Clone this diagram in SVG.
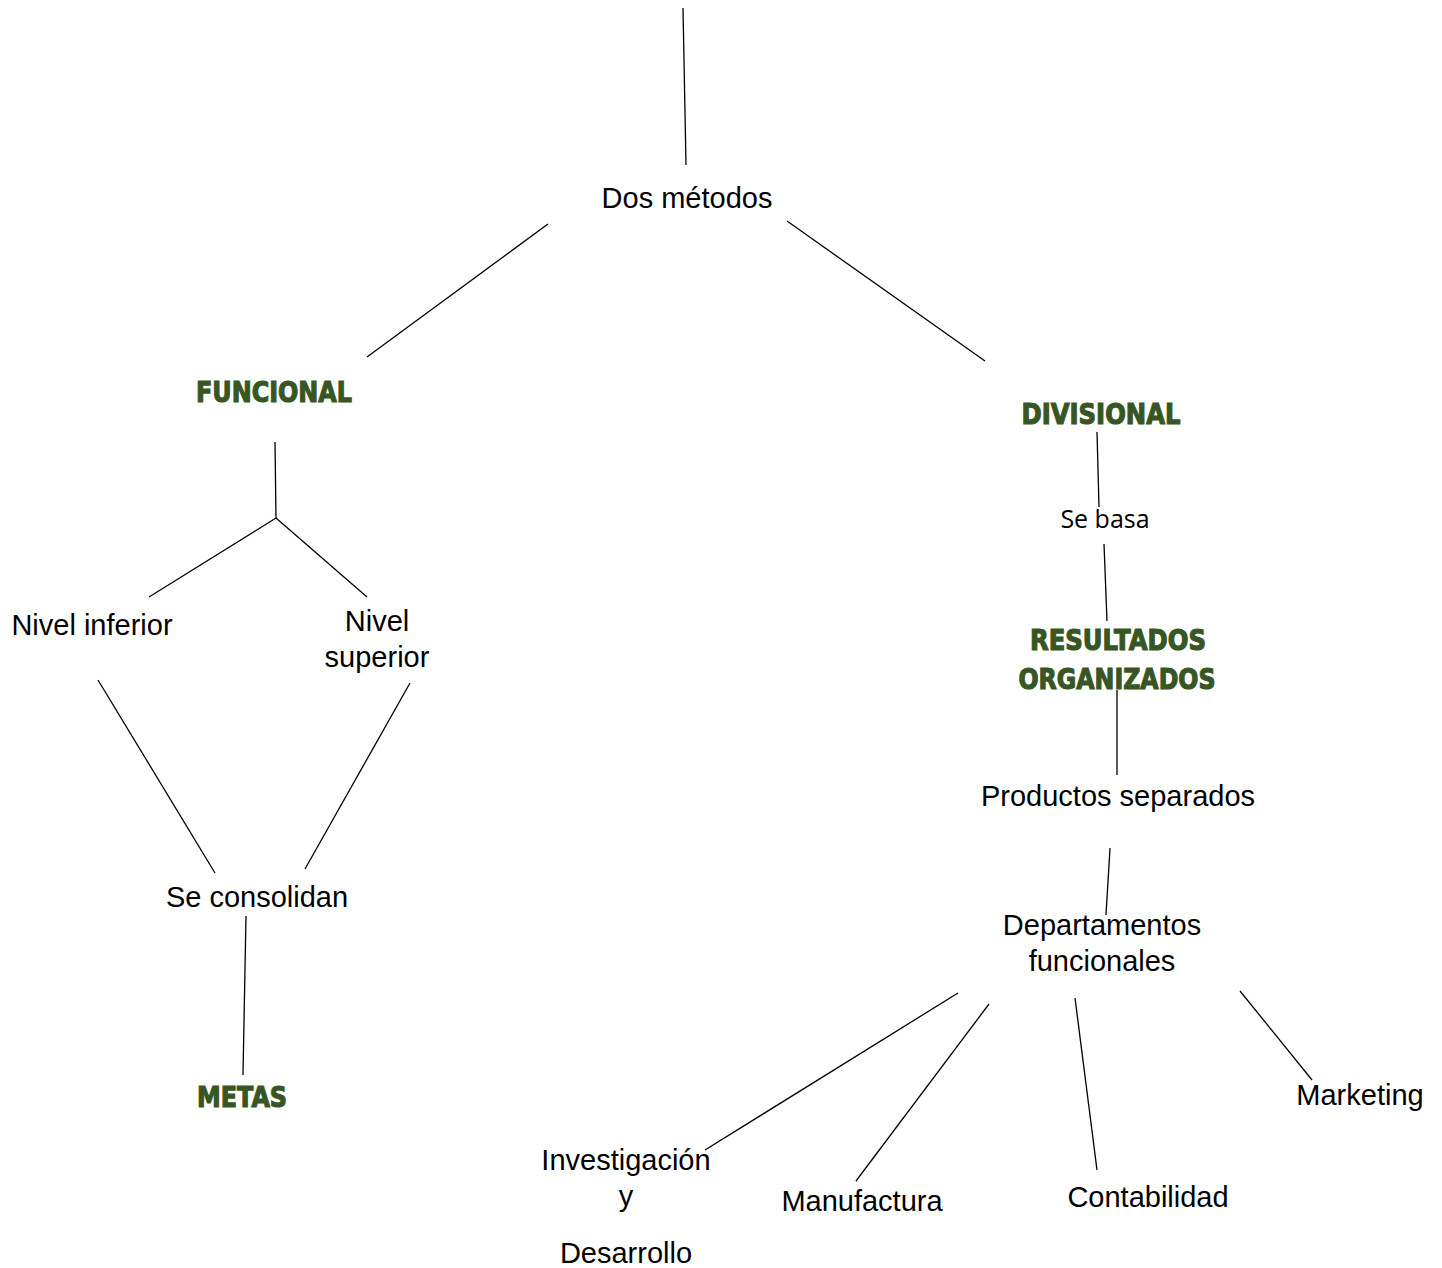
<svg xmlns="http://www.w3.org/2000/svg" width="1442" height="1268" viewBox="0 0 1442 1268">
<style>
.t{font-family:"Liberation Sans",Arial,sans-serif;font-size:29px;fill:#000;text-anchor:middle}
.s{font-family:"Open Sans","Noto Sans",sans-serif;font-size:25px;fill:#000;text-anchor:middle}
.h{font-family:"DejaVu Sans","Liberation Sans",sans-serif;font-weight:900;font-size:28px;fill:#375623;stroke:#375623;stroke-width:1.2;text-anchor:middle}
.c line{stroke:#000;stroke-width:1.3}
</style>
<rect width="1442" height="1268" fill="#fff"/>
<g class="c" id="connectors">
<line x1="683" y1="8" x2="686" y2="165"/>
<line x1="548" y1="224" x2="367" y2="357"/>
<line x1="787" y1="221" x2="985" y2="361"/>
<line x1="275" y1="442" x2="276" y2="518"/>
<line x1="276" y1="518" x2="149" y2="597"/>
<line x1="276" y1="518" x2="367" y2="597"/>
<line x1="98" y1="680" x2="215" y2="873"/>
<line x1="410" y1="683" x2="305" y2="869"/>
<line x1="246" y1="916" x2="243" y2="1075"/>
<line x1="1097" y1="432" x2="1099" y2="507"/>
<line x1="1104" y1="544" x2="1107" y2="621"/>
<line x1="1117" y1="690" x2="1117" y2="775"/>
<line x1="1110" y1="848" x2="1106" y2="915"/>
<line x1="958" y1="993" x2="705" y2="1150"/>
<line x1="989" y1="1004" x2="856" y2="1181"/>
<line x1="1075" y1="998" x2="1097" y2="1170"/>
<line x1="1240" y1="991" x2="1312" y2="1080"/>
</g>
<g id="dos"><text class="t" x="687" y="208">Dos métodos</text></g>
<g id="funcional"><text class="h" x="274" y="402" textLength="156" lengthAdjust="spacingAndGlyphs">FUNCIONAL</text></g>
<g id="divisional"><text class="h" x="1101" y="424" textLength="159" lengthAdjust="spacingAndGlyphs">DIVISIONAL</text></g>
<g id="inferior"><text class="t" x="92" y="635">Nivel inferior</text></g>
<g id="superior"><text class="t" x="377" y="631">Nivel</text><text class="t" x="377" y="667">superior</text></g>
<g id="consolidan"><text class="t" x="257" y="907">Se consolidan</text></g>
<g id="metas"><text class="h" x="242" y="1107" textLength="90" lengthAdjust="spacingAndGlyphs">METAS</text></g>
<g id="sebasa"><text class="s" x="1105" y="528">Se basa</text></g>
<g id="resultados"><text class="h" x="1118" y="650" textLength="176" lengthAdjust="spacingAndGlyphs">RESULTADOS</text><text class="h" x="1117" y="689" textLength="197" lengthAdjust="spacingAndGlyphs">ORGANIZADOS</text></g>
<g id="productos"><text class="t" x="1118" y="806">Productos separados</text></g>
<g id="departamentos"><text class="t" x="1102" y="935">Departamentos</text><text class="t" x="1102" y="971">funcionales</text></g>
<g id="investigacion"><text class="t" x="626" y="1170">Investigación</text><text class="t" x="626" y="1206">y</text><text class="t" x="626" y="1263">Desarrollo</text></g>
<g id="manufactura"><text class="t" x="862" y="1211">Manufactura</text></g>
<g id="contabilidad"><text class="t" x="1148" y="1207">Contabilidad</text></g>
<g id="marketing"><text class="t" x="1360" y="1105">Marketing</text></g>
</svg>
